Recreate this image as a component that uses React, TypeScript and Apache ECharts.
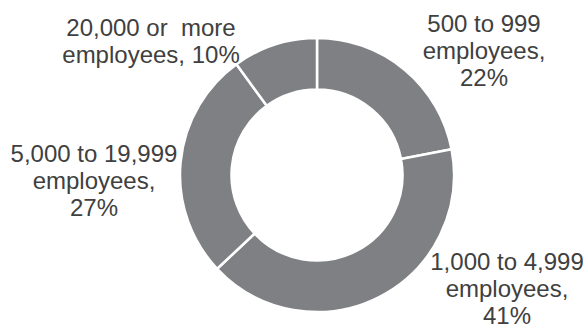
import React, { useEffect, useRef } from "react";
import * as echarts from "echarts";

const categories = ["500 to 999", "1,000 to 4,999", "5,000 to 19,999", "20,000 or  more"];
const shares = [22, 41, 27, 10];
// label block centres (layout only)
const labelCentres = [
  [484, 50.5],
  [507, 288.5],
  [94, 180.5],
  [151, 40.5],
];

export default function App() {
  const ref = useRef<HTMLDivElement>(null);
  useEffect(() => {
    document.body.style.margin = "0";
    const chart = echarts.init(ref.current!, null, { renderer: "svg" });
    chart.setOption({
      animation: false,
      backgroundColor: "#ffffff",
      series: [
        {
          type: "pie",
          center: [317, 175],
          radius: [85.5, 137],
          startAngle: 90,
          clockwise: true,
          silent: true,
          itemStyle: { color: "#7f8083", borderColor: "#ffffff", borderWidth: 2.5 },
          label: {
            show: true,
            position: "outside",
            overflow: "none",
            edgeDistance: 0,
            fontFamily: "Liberation Sans, Arial, sans-serif",
            fontSize: 24,
            lineHeight: 27,
            color: "#404040",
            align: "center",
            formatter: (p: any) =>
              p.dataIndex === 3
                ? `${p.name}\nemployees, ${p.value}%`
                : `${p.name}\nemployees,\n${p.value}%`,
          },
          labelLine: { show: false },
          labelLayout: (params: any) => {
            const c = labelCentres[params.dataIndex];
            return { x: c[0], y: c[1], align: "center", verticalAlign: "middle" };
          },
          data: categories.map((name, i) => ({ name, value: shares[i] })),
        },
      ],
    });
    return () => chart.dispose();
  }, []);
  return <div ref={ref} style={{ width: 586, height: 329 }} />;
}
